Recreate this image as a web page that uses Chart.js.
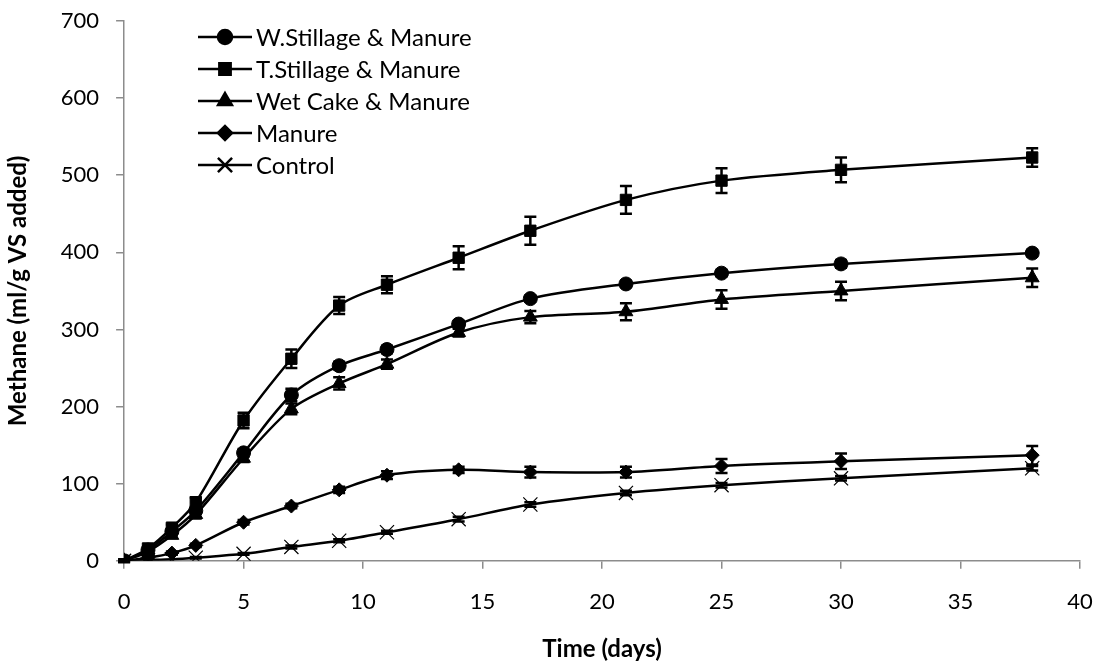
<!DOCTYPE html>
<html>
<head>
  <meta charset="utf-8" />
  <title>Methane yield</title>
  <script src="https://cdn.jsdelivr.net/npm/chart.js"></script>
  <style>
    html, body { margin: 0; padding: 0; background: #fff; }
    #wrap { width: 1098px; height: 666px; }
  </style>
</head>
<body>
  <div id="wrap"><canvas id="c"></canvas></div>
  <script>
    // data
    const days = [0, 1, 2, 3, 5, 7, 9, 11, 14, 17, 21, 25, 30, 38];
    const wStillage = [0, 14, 38, 65, 140, 215, 253, 274, 307, 340, 359, 373, 385, 399];
    const tStillage = [0, 16, 43, 76, 182, 262, 331, 358, 393, 428, 468, 493, 507, 523];
    const wetCake   = [0, 12, 33, 60, 133, 197, 230, 255, 296, 316, 323, 339, 350, 367];
    const manure    = [0, 4, 10, 20, 50, 71, 92, 111, 118, 115, 115, 123, 129, 137];
    const control   = [0, 1, 2, 4, 9, 18, 26, 37, 54, 73, 88, 98, 107, 120];

    const wStillageErr = [1, 2, 3, 4, 5, 8, 5, 5, 4, 4, 4, 4, 5, 4];
    const tStillageErr = [2, 3, 4, 6, 10, 12, 11, 11, 15, 18, 18, 16, 16, 12];
    const wetCakeErr   = [1, 2, 3, 5, 5, 7, 8, 6, 5, 8, 11, 12, 12, 12];
    const manureErr    = [1, 1, 2, 2, 3, 3, 4, 5, 4, 7, 7, 9, 10, 12];
    const controlErr   = [0, 0, 0, 1, 1, 2, 2, 2, 3, 3, 3, 3, 3, 3];

    const seriesNames = ["W.Stillage & Manure", "T.Stillage & Manure", "Wet Cake & Manure", "Manure", "Control"];
    const seriesVals = [wStillage, tStillage, wetCake, manure, control];
    const seriesErr = [wStillageErr, tStillageErr, wetCakeErr, manureErr, controlErr];
    const markers = ["circle", "rect", "triangle", "rectRot", "crossRot"];
    const markerSize = [7, 8, 8, 7, 10];

    const FONT = "Lato, 'Open Sans', sans-serif";

    const datasets = seriesNames.map((name, i) => ({
      label: name,
      data: days.map((d, j) => ({ x: d, y: seriesVals[i][j] })),
      errs: seriesErr[i],
      borderColor: "#000",
      backgroundColor: "#000",
      borderWidth: 2.5,
      pointStyle: markers[i],
      pointRadius: markerSize[i],
      pointBorderWidth: i === 4 ? 1.2 : 1,
      pointBorderColor: "#000",
      pointBackgroundColor: "#000",
      tension: 0.3,
      fill: false
    }));

    // error bars
    const errorBars = {
      id: "errorBars",
      beforeDatasetsDraw(chart) {
        const ctx = chart.ctx, ys = chart.scales.y, xs = chart.scales.x;
        ctx.save();
        ctx.strokeStyle = "#000";
        ctx.lineWidth = 2.5;
        chart.data.datasets.forEach(ds => {
          ds.data.forEach((p, j) => {
            const e = ds.errs[j];
            if (!e) return;
            const px = xs.getPixelForValue(p.x);
            const top = ys.getPixelForValue(p.y + e);
            const bot = ys.getPixelForValue(p.y - e);
            ctx.beginPath();
            ctx.moveTo(px, top); ctx.lineTo(px, bot);
            ctx.moveTo(px - 6, top); ctx.lineTo(px + 6, top);
            ctx.moveTo(px - 6, bot); ctx.lineTo(px + 6, bot);
            ctx.stroke();
          });
        });
        ctx.restore();
      }
    };

    // legend inside plot, upper left
    const innerLegend = {
      id: "innerLegend",
      afterDraw(chart) {
        const ctx = chart.ctx;
        ctx.save();
        ctx.font = "24px " + FONT;
        ctx.textBaseline = "middle";
        ctx.fillStyle = "#000";
        seriesNames.forEach((name, i) => {
          const y = 37 + i * 32;
          ctx.strokeStyle = "#000";
          ctx.lineWidth = 2.5;
          ctx.beginPath();
          ctx.moveTo(198, y); ctx.lineTo(252, y);
          ctx.stroke();
          Chart.helpers.drawPoint(ctx, {
            pointStyle: markers[i], radius: markerSize[i], rotation: 0,
            borderWidth: i === 4 ? 1.2 : 1
          }, 225, y);
          ctx.fillText(name, 256, y + 1);
        });
        ctx.restore();
      }
    };

    new Chart(document.getElementById("c"), {
      type: "line",
      data: { datasets },
      plugins: [errorBars, innerLegend],
      options: {
        responsive: true,
        maintainAspectRatio: false,
        animation: false,
        layout: { padding: { top: 21, right: 18, bottom: 2, left: 4 } },
        plugins: { legend: { display: false }, tooltip: { enabled: false } },
        scales: {
          x: {
            type: "linear", min: 0, max: 40,
            afterFit: s => { s.paddingLeft = 0; s.paddingRight = 0; },
            ticks: { stepSize: 5, color: "#000", font: { size: 22, family: FONT }, padding: 20 },
            grid: { drawOnChartArea: false, drawTicks: true, tickLength: 8, color: "#8c8c8c", lineWidth: 1.5 },
            border: { color: "#8c8c8c", width: 1.5 },
            title: { display: true, text: "Time (days)", color: "#000", font: { size: 24, weight: "bold", family: FONT }, padding: { top: 0, bottom: 0 } }
          },
          y: {
            min: 0, max: 700,
            afterFit: s => { s.paddingTop = 0; s.paddingBottom = 0; },
            ticks: { stepSize: 100, color: "#000", font: { size: 22, family: FONT }, padding: 17 },
            grid: { drawOnChartArea: false, drawTicks: true, tickLength: 8, color: "#8c8c8c", lineWidth: 1.5 },
            border: { color: "#8c8c8c", width: 1.5 },
            title: { display: true, text: "Methane (ml/g VS added)", color: "#000", font: { size: 24, weight: "bold", family: FONT }, padding: { top: 0, bottom: 11 } }
          }
        }
      }
    });
  </script>
</body>
</html>
